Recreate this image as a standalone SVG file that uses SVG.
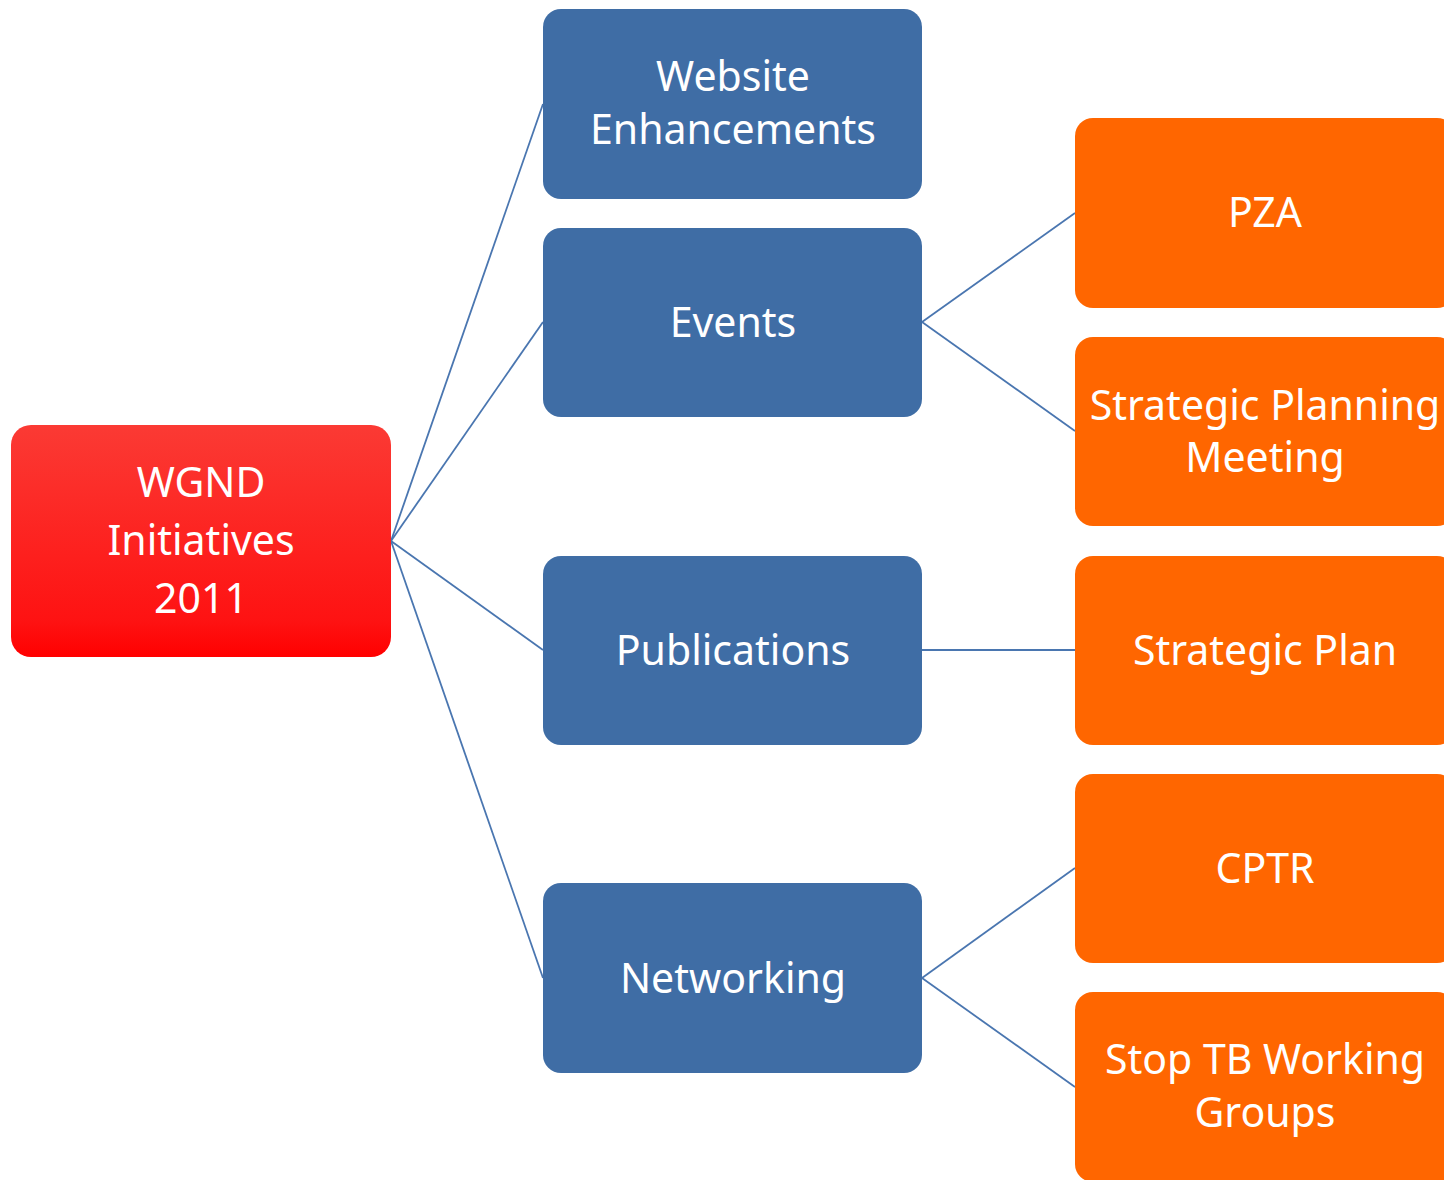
<svg xmlns="http://www.w3.org/2000/svg" width="1444" height="1180" viewBox="0 0 1444 1180">
<defs>
<linearGradient id="redGrad" x1="0" y1="0" x2="0" y2="1">
<stop offset="0" stop-color="#fb3a34"/>
<stop offset="0.85" stop-color="#fe1212"/>
<stop offset="1" stop-color="#ff0000"/>
</linearGradient>
<style>
.lbl{font-family:"Noto Sans","Open Sans","Liberation Sans",sans-serif;font-size:41px;fill:#ffffff;text-anchor:middle}
.blue{fill:#3f6da5}
.orange{fill:#ff6600}
.conn{stroke:#4a76b0;stroke-width:1.8;fill:none}
</style>
</defs>
<rect width="1444" height="1180" fill="#ffffff"/>
<g id="connectors">
<line class="conn" x1="391" y1="541" x2="543" y2="104"/>
<line class="conn" x1="391" y1="541" x2="543" y2="322"/>
<line class="conn" x1="391" y1="541" x2="543" y2="650"/>
<line class="conn" x1="391" y1="541" x2="543" y2="978"/>
<line class="conn" x1="922" y1="322" x2="1075" y2="213"/>
<line class="conn" x1="922" y1="322" x2="1075" y2="431"/>
<line class="conn" x1="922" y1="650" x2="1075" y2="650"/>
<line class="conn" x1="922" y1="978" x2="1075" y2="868"/>
<line class="conn" x1="922" y1="978" x2="1075" y2="1087"/>
</g>
<g id="root">
<rect x="11" y="425" width="380" height="232" rx="20" fill="url(#redGrad)"/>
<text class="lbl" x="201" y="497">WGND</text>
<text class="lbl" x="201" y="555">Initiatives</text>
<text class="lbl" x="201" y="613">2011</text>
</g>
<g id="website">
<rect class="blue" x="543" y="9" width="379" height="190" rx="18"/>
<text class="lbl" x="733" y="91">Website</text>
<text class="lbl" x="733" y="144">Enhancements</text>
</g>
<g id="events">
<rect class="blue" x="543" y="228" width="379" height="189" rx="18"/>
<text class="lbl" x="733" y="337">Events</text>
</g>
<g id="publications">
<rect class="blue" x="543" y="556" width="379" height="189" rx="18"/>
<text class="lbl" x="733" y="665">Publications</text>
</g>
<g id="networking">
<rect class="blue" x="543" y="883" width="379" height="190" rx="18"/>
<text class="lbl" x="733" y="993">Networking</text>
</g>
<g id="pza">
<rect class="orange" x="1075" y="118" width="380" height="190" rx="18"/>
<text class="lbl" x="1265" y="227">PZA</text>
</g>
<g id="strategic-planning-meeting">
<rect class="orange" x="1075" y="337" width="380" height="189" rx="18"/>
<text class="lbl" x="1265" y="420">Strategic Planning</text>
<text class="lbl" x="1265" y="472">Meeting</text>
</g>
<g id="strategic-plan">
<rect class="orange" x="1075" y="556" width="380" height="189" rx="18"/>
<text class="lbl" x="1265" y="665">Strategic Plan</text>
</g>
<g id="cptr">
<rect class="orange" x="1075" y="774" width="380" height="189" rx="18"/>
<text class="lbl" x="1265" y="883">CPTR</text>
</g>
<g id="stop-tb">
<rect class="orange" x="1075" y="992" width="380" height="190" rx="18"/>
<text class="lbl" x="1265" y="1074">Stop TB Working</text>
<text class="lbl" x="1265" y="1127">Groups</text>
</g>
</svg>
